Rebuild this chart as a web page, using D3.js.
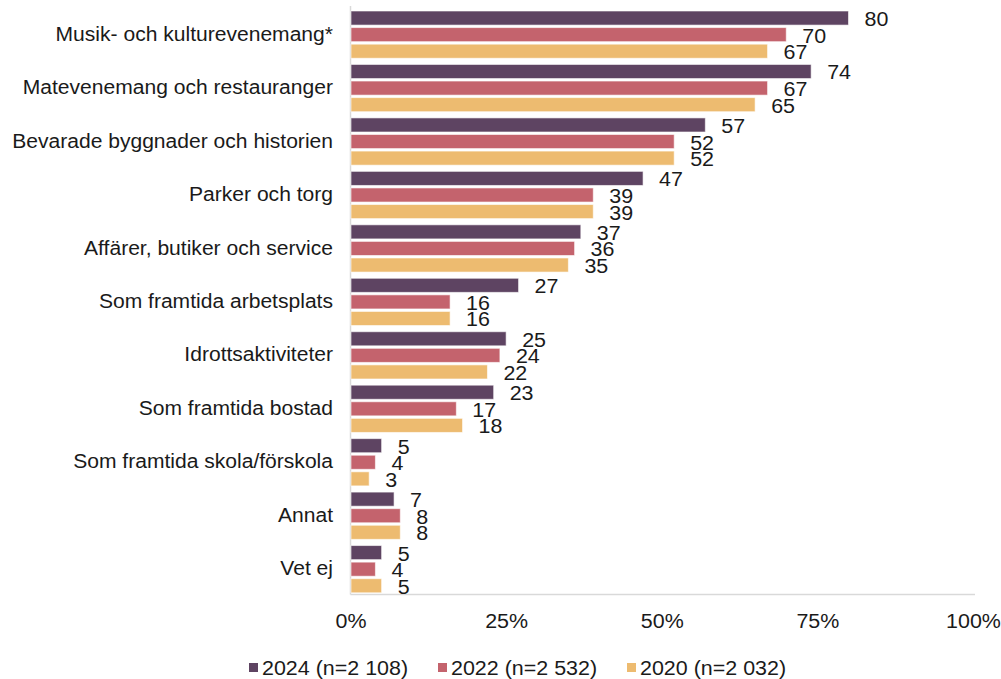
<!DOCTYPE html>
<html>
<head>
<meta charset="utf-8">
<script src="https://cdn.jsdelivr.net/npm/d3@7"></script>
<style>
  html, body { margin: 0; padding: 0; background: #fff; }
  svg { display: block; font-family: "Liberation Sans", Arial, sans-serif; }
</style>
</head>
<body>
<svg id="chart" width="1001" height="679"></svg>
<script>
const categories = [
  "Musik- och kulturevenemang*",
  "Matevenemang och restauranger",
  "Bevarade byggnader och historien",
  "Parker och torg",
  "Affärer, butiker och service",
  "Som framtida arbetsplats",
  "Idrottsaktiviteter",
  "Som framtida bostad",
  "Som framtida skola/förskola",
  "Annat",
  "Vet ej"
];
const seriesNames = ["2024 (n=2 108)", "2022 (n=2 532)", "2020 (n=2 032)"];
const values2024 = [80, 74, 57, 47, 37, 27, 25, 23, 5, 7, 5];
const values2022 = [70, 67, 52, 39, 36, 16, 24, 17, 4, 8, 4];
const values2020 = [67, 65, 52, 39, 35, 16, 22, 18, 3, 8, 5];
const tickValues = [0, 25, 50, 75, 100];
const colors = ["#5E4462", "#C4636D", "#EDBB70"];

const seriesValues = [values2024, values2022, values2020];
const svg = d3.select("#chart");

const x = d3.scaleLinear().domain([0, 100]).range([350.5, 973]);
const y0 = d3.scaleBand().domain(categories).range([6, 594]);
const y1 = d3.scaleBand().domain(d3.range(3)).range([5, y0.bandwidth() - 1.2]).paddingInner(0.15);

const fontSize = 19.5;
function widen(stretch) {
  return sel => sel.each(function () {
    const w = this.getComputedTextLength();
    d3.select(this).attr("textLength", w * stretch).attr("lengthAdjust", "spacingAndGlyphs");
  });
}

// axes lines
svg.append("line")
  .attr("x1", x(0)).attr("x2", x(0))
  .attr("y1", 6).attr("y2", 594.5)
  .attr("stroke", "#D9D9D9").attr("stroke-width", 1.5);
svg.append("line")
  .attr("x1", x(0)).attr("x2", 975)
  .attr("y1", 594.5).attr("y2", 594.5)
  .attr("stroke", "#D9D9D9").attr("stroke-width", 1.5);

const rows = categories.map((c, i) => ({ c, vals: seriesValues.map(s => s[i]) }));

const g = svg.append("g");
const groups = g.selectAll("g.cat").data(rows).join("g")
  .attr("class", "cat")
  .attr("transform", d => `translate(0,${y0(d.c)})`);

groups.selectAll("rect").data(d => d.vals.map((v, k) => ({ v, k }))).join("rect")
  .attr("x", x(0) + 0.5)
  .attr("y", d => y1(d.k))
  .attr("width", d => x(d.v) - x(0) - 0.5)
  .attr("height", y1.bandwidth())
  .attr("fill", d => colors[d.k])
  .attr("stroke", "#ffffff")
  .attr("stroke-opacity", 0.6)
  .attr("stroke-width", 1);

groups.selectAll("text.val").data(d => d.vals.map((v, k) => ({ v, k }))).join("text")
  .attr("class", "val")
  .attr("x", d => x(d.v) + 16)
  .attr("y", d => y1(d.k) + y1.bandwidth() / 2 + 1)
  .attr("dominant-baseline", "central")
  .attr("font-size", fontSize)
  .attr("fill", "#1a1a1a")
  .text(d => d.v)
  .call(widen(1.1));

// category labels
svg.append("g").selectAll("text").data(categories).join("text")
  .attr("x", 333)
  .attr("y", d => y0(d) + y0.bandwidth() / 2 + 1)
  .attr("text-anchor", "end")
  .attr("dominant-baseline", "central")
  .attr("font-size", fontSize)
  .attr("fill", "#1a1a1a")
  .text(d => d)
  .call(widen(1.08));

// x axis tick labels
const xAxis = d3.axisBottom(x).tickValues(tickValues).tickFormat(d => d + "%").tickSize(0).tickPadding(0);
const ax = svg.append("g").attr("transform", "translate(0,614)").call(xAxis);
ax.select(".domain").remove();
ax.selectAll("text")
  .attr("font-size", fontSize)
  .attr("font-family", "'Liberation Sans', Arial, sans-serif")
  .attr("fill", "#1a1a1a")
  .attr("dy", "0.72em")
  .call(widen(1.1));

// legend
const legendX = [249, 438, 627];
const lg = svg.append("g").selectAll("g").data(seriesNames).join("g")
  .attr("transform", (d, i) => `translate(${legendX[i]},663)`);
lg.append("rect").attr("width", 9).attr("height", 9).attr("fill", (d, i) => colors[i]);
lg.append("text")
  .attr("x", 13).attr("y", 4.5)
  .attr("dominant-baseline", "central")
  .attr("font-size", fontSize)
  .attr("fill", "#1a1a1a")
  .text(d => d)
  .call(widen(1.1));
</script>
</body>
</html>
